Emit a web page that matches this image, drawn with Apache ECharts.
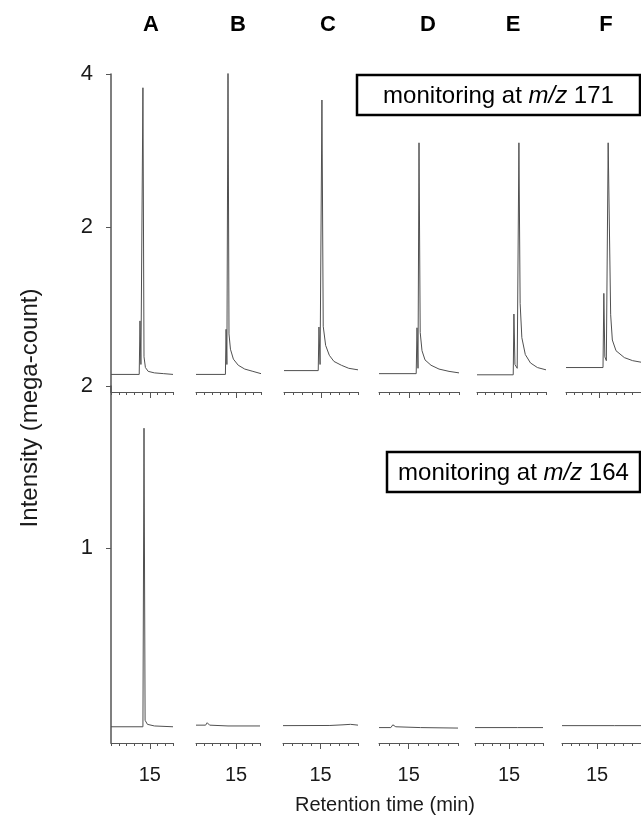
<!DOCTYPE html>
<html>
<head>
<meta charset="utf-8">
<script src="https://cdn.jsdelivr.net/npm/echarts@6/dist/echarts.min.js"></script>
<style>
html,body{margin:0;padding:0;background:#fff}
#chart{width:641px;height:819px}
</style>
</head>
<body>
<div id="chart"></div>
<script>
// panel letters
var panelNames = ['A', 'B', 'C', 'D', 'E', 'F'];
// retention time range of every panel (min)
var xMins = [12.5, 12.5, 13, 13.5, 13, 13];
var xMaxs = [16.5, 16.5, 17, 17.5, 17, 17.5];
var majorTick = [15];
// y tick labels (mega-count)
var ticks171 = [2, 4];
var ticks164 = [1, 2];

// m/z 171 traces [time, intensity]
var m171A = [[12.5,0.07],[14.32,0.07],[14.37,0.77],[14.43,0.2],[14.56,3.82],[14.63,0.3],[14.72,0.16],[14.9,0.11],[15.3,0.09],[15.9,0.08],[16.5,0.07]];
var m171B = [[12.5,0.07],[14.31,0.07],[14.35,0.66],[14.4,0.2],[14.47,4.2],[14.53,0.6],[14.62,0.4],[14.8,0.27],[15.1,0.19],[15.5,0.14],[16,0.11],[16.5,0.08]];
var m171C = [[13,0.12],[14.85,0.12],[14.89,0.69],[14.95,0.2],[15.05,3.66],[15.12,0.7],[15.25,0.45],[15.45,0.32],[15.7,0.24],[16.1,0.19],[16.5,0.15],[17,0.13]];
var m171D = [[13.5,0.08],[15.36,0.08],[15.4,0.68],[15.45,0.15],[15.5,3.1],[15.56,0.62],[15.65,0.38],[15.8,0.26],[16.1,0.19],[16.5,0.14],[17,0.11],[17.5,0.09]];
var m171E = [[13,0.065],[15.1,0.065],[15.14,0.86],[15.2,0.2],[15.33,0.15],[15.43,3.1],[15.5,1.0],[15.6,0.55],[15.8,0.33],[16.1,0.22],[16.5,0.16],[17,0.13]];
var m171F = [[13,0.16],[15.22,0.16],[15.27,1.13],[15.33,0.3],[15.42,0.25],[15.53,3.1],[15.62,3.1],[15.68,0.85],[15.78,0.52],[16,0.38],[16.5,0.29],[17,0.25],[17.5,0.23]];

// m/z 164 traces [time, intensity]
var m164A = [[12.5,-0.1],[14.56,-0.1],[14.63,1.74],[14.7,-0.06],[14.85,-0.085],[15.3,-0.095],[16.5,-0.1]];
var m164B = [[12.5,-0.09],[13.1,-0.09],[13.2,-0.075],[13.35,-0.09],[14.5,-0.095],[16.5,-0.095]];
var m164C = [[13,-0.093],[15.5,-0.092],[16.2,-0.088],[16.6,-0.085],[17,-0.09]];
var m164D = [[13.5,-0.105],[14.1,-0.105],[14.2,-0.088],[14.35,-0.1],[15.6,-0.105],[17.5,-0.108]];
var m164E = [[13,-0.105],[15.5,-0.105],[17,-0.105]];
var m164F = [[13,-0.093],[16,-0.093],[17.5,-0.093]];

var traces = [
    [m171A, m171B, m171C, m171D, m171E, m171F],
    [m164A, m164B, m164C, m164D, m164E, m164F]
];

// layout (px)
var rowTop = [74, 386];
var rowHeight = [318, 357];
var yMins = [-0.16, -0.2];
var yMaxs = [4, 2];
var panelLeft = [[111,196,284,379,477,566],[111,196,283,379,475,562]];
var panelWidth = [[62,65,74,80,69,87],[62,64,75,79,68,90]];
var letterX = [151, 238, 328, 428, 513, 606];

var font = '"Liberation Sans", Arial, Helvetica, sans-serif';
var axisColor = '#555';
var textColor = '#1a1a1a';

var grids = [], xAxes = [], yAxes = [], series = [];
for (var r = 0; r < 2; r++) {
    for (var i = 0; i < 6; i++) {
        var g = grids.length;
        grids.push({left: panelLeft[r][i], width: panelWidth[r][i], top: rowTop[r], height: rowHeight[r]});
        // minor ticks
        xAxes.push({
            gridIndex: g, type: 'value', position: 'bottom',
            min: xMins[i], max: xMaxs[i], interval: 0.5,
            axisLine: {show: true, onZero: false, lineStyle: {color: axisColor, width: 1}},
            axisTick: {show: true, length: 3, lineStyle: {color: axisColor, width: 1}},
            axisLabel: {show: false},
            splitLine: {show: false}
        });
        // long tick + label at 15 min
        xAxes.push({
            gridIndex: g, type: 'value', position: 'bottom',
            min: xMins[i], max: xMaxs[i],
            axisLine: {show: false, onZero: false},
            axisTick: {show: true, length: 6, customValues: majorTick, lineStyle: {color: axisColor, width: 1}},
            axisLabel: {show: r === 1, customValues: majorTick, fontSize: 20, color: textColor, fontFamily: font, margin: 22},
            splitLine: {show: false}
        });
        yAxes.push({
            gridIndex: g, type: 'value', show: i === 0,
            min: yMins[r], max: yMaxs[r],
            axisLine: {show: true, onZero: false, lineStyle: {color: axisColor, width: 1.5}},
            axisTick: {show: true, length: 5, customValues: r === 0 ? ticks171 : ticks164, lineStyle: {color: axisColor, width: 1}},
            axisLabel: {customValues: r === 0 ? ticks171 : ticks164, fontSize: 22, color: textColor, fontFamily: font, margin: 18},
            splitLine: {show: false}
        });
        series.push({
            type: 'line', xAxisIndex: 2 * g, yAxisIndex: g,
            data: traces[r][i], showSymbol: false, symbol: 'none',
            lineStyle: {color: '#505050', width: 1},
            animation: false, silent: true
        });
    }
}

var graphics = [];
for (var k = 0; k < panelNames.length; k++) {
    graphics.push({
        type: 'text', x: letterX[k], y: 25, z: 100,
        style: {text: panelNames[k], font: 'bold 22px ' + font, fill: '#000', align: 'center', verticalAlign: 'middle'}
    });
}
function boxLabel(x, y, w, h, mz) {
    graphics.push({
        type: 'rect', z: 100,
        shape: {x: x, y: y, width: w, height: h},
        style: {fill: '#fff', stroke: '#000', lineWidth: 2.5}
    });
    graphics.push({
        type: 'text', z: 101, x: x + w / 2, y: y + h / 2 + 1,
        style: {
            text: '{n|monitoring at }{i|m/z}{n| ' + mz + '}',
            align: 'center', verticalAlign: 'middle',
            rich: {
                n: {fontSize: 24, fontFamily: font, fill: '#000'},
                i: {fontSize: 24, fontFamily: font, fontStyle: 'italic', fill: '#000'}
            }
        }
    });
}
boxLabel(357, 75, 283, 40, 171);
boxLabel(387, 452, 253, 40, 164);

graphics.push({
    type: 'text', x: 30, y: 408, rotation: Math.PI / 2, z: 100,
    style: {text: 'Intensity (mega-count)', font: '24px ' + font, fill: textColor, align: 'center', verticalAlign: 'middle'}
});
graphics.push({
    type: 'text', x: 385, y: 805, z: 100,
    style: {text: 'Retention time (min)', font: '20px ' + font, fill: textColor, align: 'center', verticalAlign: 'middle'}
});

var chart = echarts.init(document.getElementById('chart'));
chart.setOption({
    animation: false,
    grid: grids,
    xAxis: xAxes,
    yAxis: yAxes,
    series: series,
    graphic: graphics
});
</script>
</body>
</html>
